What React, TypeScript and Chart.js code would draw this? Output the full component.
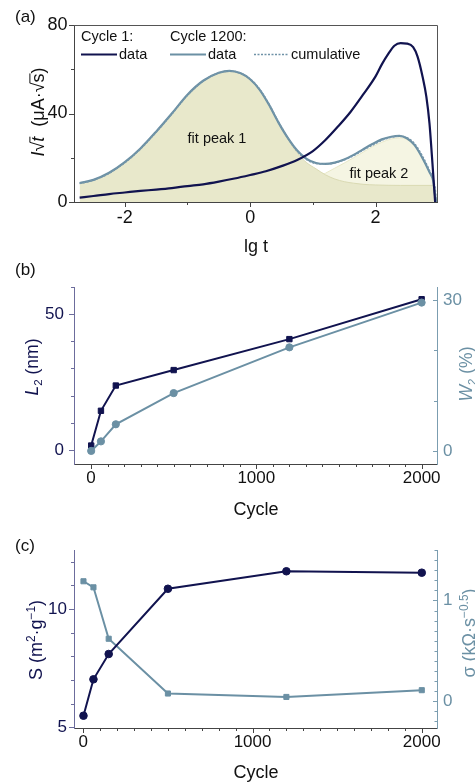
import React, { useEffect, useRef } from "react";
import { Chart, registerables } from "chart.js";
Chart.register(...registerables);

const FONT = "'Liberation Sans', Arial, Helvetica, sans-serif";
const NAVY = "#11134f";
const STEEL = "#6b90a4";
const INK = "#111111";

// ---------- panel (a): I·sqrt(t) vs lg t ----------
const lgT1 = [-2.72, -2.5, -2.25, -2.0, -1.75, -1.5, -1.25, -1.0, -0.75, -0.5, -0.25, 0.0, 0.25, 0.5, 0.75, 1.0, 1.2, 1.4, 1.6, 1.8, 2.0, 2.1, 2.2, 2.3, 2.4, 2.5, 2.6, 2.67, 2.75, 2.81, 2.86, 2.9, 2.93, 2.95];
const cycle1Signal = [2.0, 2.7, 3.6, 4.3, 5.0, 5.6, 6.3, 7.2, 8.0, 9.2, 10.6, 12.2, 13.9, 16.2, 19.0, 23.0, 28.0, 34.1, 40.7, 48.5, 56.8, 62.2, 66.8, 70.6, 71.8, 71.6, 70.0, 65.7, 56.6, 47.6, 35.5, 20.4, 8.3, 0];

const lgT1200 = [-2.72, -2.5, -2.25, -2.0, -1.75, -1.5, -1.25, -1.0, -0.75, -0.5, -0.33, -0.15, 0.0, 0.15, 0.3, 0.45, 0.6, 0.75, 0.9, 1.05, 1.2, 1.35, 1.5, 1.65, 1.8, 1.95, 2.1, 2.25, 2.38, 2.5, 2.62, 2.75, 2.86, 2.92, 2.95, 2.97];
const cycle1200Signal = [8.6, 10.0, 13.2, 18.0, 24.2, 31.8, 40.0, 48.5, 54.8, 58.4, 59.3, 58.2, 55.5, 50.8, 44.0, 36.0, 29.0, 23.3, 19.5, 17.6, 17.2, 17.8, 19.2, 21.3, 23.8, 26.2, 28.3, 29.5, 29.9, 28.8, 25.8, 19.8, 13.5, 9.5, 3.0, 0];
const cumulativeSignal = [8.4, 9.9, 13.0, 17.8, 24.0, 31.6, 39.8, 48.3, 54.7, 58.4, 59.2, 58.2, 55.6, 51.0, 44.2, 36.2, 29.0, 23.0, 19.2, 17.4, 17.2, 17.7, 19.0, 21.0, 23.4, 25.7, 27.9, 29.3, 29.8, 29.1, 26.4, 20.6, 14.2, 10.0, 6.0, 0];

const lgTPeak1 = [-2.72, -2.5, -2.25, -2.0, -1.75, -1.5, -1.25, -1.0, -0.75, -0.5, -0.33, -0.15, 0.0, 0.15, 0.3, 0.45, 0.6, 0.75, 0.9, 1.05, 1.2, 1.35, 1.5, 1.65, 1.8, 2.0, 2.4, 2.93];
const fitPeak1 = [8.3, 9.8, 13.0, 17.8, 24.0, 31.6, 39.8, 48.3, 54.6, 58.2, 59.0, 58.0, 55.2, 50.5, 43.8, 35.8, 28.5, 22.2, 17.8, 15.0, 12.3, 10.4, 9.2, 8.5, 8.0, 7.7, 7.5, 7.5];

const lgTPeak2 = [0.6, 0.9, 1.05, 1.2, 1.35, 1.5, 1.65, 1.8, 1.95, 2.1, 2.25, 2.38, 2.5, 2.62, 2.75, 2.86, 2.93];
const fitPeak2 = [7.5, 8.6, 10.5, 13.0, 15.3, 17.6, 20.0, 22.5, 25.0, 27.0, 28.5, 29.0, 28.2, 25.4, 19.6, 13.4, 9.0];

const aXTicks = [-2, 0, 2];
const aXMinor = [-1, 1];
const aYTicks = [0, 40, 80];
const aYMinor = [20, 60];

// ---------- panels (b) and (c): vs cycle ----------
const cycles = [1, 60, 150, 500, 1200, 2000];
const L2nm = [1.6, 14.4, 23.7, 29.4, 40.8, 55.5];
const W2pct = [0.0, 1.9, 5.3, 11.5, 20.6, 29.5];
const S_m2g = [5.49, 7.03, 8.1, 10.86, 11.6, 11.54];
const sigmaK = [1.19, 1.13, 0.62, 0.077, 0.043, 0.11];

const cycleTicks = [0, 1000, 2000];
const cycleMinor = [100, 200, 300, 400, 500, 600, 700, 800, 900, 1100, 1200, 1300, 1400, 1500, 1600, 1700, 1800, 1900];
const bLeftTicks = [0, 50];
const bLeftMinor = [10, 20, 30, 40, 60];
const bRightTicks = [0, 30];
const bRightMinor = [10, 20];
const cLeftTicks = [5, 10];
const cLeftMinor = [6, 7, 8, 9, 11, 12];
const cRightTicks = [0, 1];
const cRightMinor = [-0.2, -0.1, 0.1, 0.2, 0.3, 0.4, 0.5, 0.6, 0.7, 0.8, 0.9, 1.1, 1.2, 1.3, 1.4, 1.5];

const pts = (xs: number[], ys: number[]) => xs.map((x, i) => ({ x, y: ys[i] }));

type Seg = { t: string; it?: boolean; s?: "sub" | "sup"; over?: boolean };

function drawRich(ctx: CanvasRenderingContext2D, segs: Seg[], size: number, cx: number, by: number, color: string) {
  const parts = segs.map((s) => {
    const fs = s.s ? size * 0.66 : size;
    const font = `${s.it ? "italic " : ""}${fs}px ${FONT}`;
    ctx.font = font;
    return { ...s, font, w: ctx.measureText(s.t).width };
  });
  const total = parts.reduce((a, p) => a + p.w, 0);
  let x = cx - total / 2;
  ctx.fillStyle = color;
  ctx.strokeStyle = color;
  ctx.textAlign = "left";
  ctx.textBaseline = "alphabetic";
  for (const p of parts) {
    ctx.font = p.font;
    const dy = p.s === "sup" ? -size * 0.4 : p.s === "sub" ? size * 0.22 : 0;
    ctx.fillText(p.t, x, by + dy);
    if (p.over) {
      ctx.lineWidth = 1;
      ctx.beginPath();
      ctx.moveTo(x - 0.5, by - size * 0.8);
      ctx.lineTo(x + p.w, by - size * 0.8);
      ctx.stroke();
    }
    x += p.w;
  }
}

function drawRotated(ctx: CanvasRenderingContext2D, segs: Seg[], size: number, cx: number, cy: number, color: string) {
  ctx.save();
  ctx.translate(cx, cy);
  ctx.rotate(-Math.PI / 2);
  drawRich(ctx, segs, size, 0, size * 0.35, color);
  ctx.restore();
}

function drawTickSet(chart: any, id: string, values: number[], len: number, color: string) {
  const ctx = chart.ctx as CanvasRenderingContext2D;
  const s = chart.scales[id];
  ctx.save();
  ctx.strokeStyle = color;
  ctx.lineWidth = 1;
  ctx.beginPath();
  for (const v of values) {
    const p = Math.round(s.getPixelForValue(v)) + 0.5;
    if (s.isHorizontal()) {
      ctx.moveTo(p, s.top);
      ctx.lineTo(p, s.top + len);
    } else if (s.position === "left") {
      ctx.moveTo(s.right, p);
      ctx.lineTo(s.right - len, p);
    } else {
      ctx.moveTo(s.left + 1, p);
      ctx.lineTo(s.left + 1 - len, p);
    }
  }
  ctx.stroke();
  ctx.restore();
}

function linAxis(opts: {
  min: number; max: number; ticks: number[]; size: number; horizontal: boolean; position?: string;
  pad: number; color: string; labelColor: string; fontSize?: number;
}) {
  return {
    type: "linear",
    position: opts.position,
    min: opts.min,
    max: opts.max,
    afterBuildTicks: (s: any) => {
      s.ticks = opts.ticks.map((v) => ({ value: v }));
    },
    afterFit: (s: any) => {
      if (opts.horizontal) s.height = opts.size;
      else s.width = opts.size;
    },
    grid: { display: true, drawOnChartArea: false, drawTicks: false },
    border: { display: true, color: opts.color, width: 1 },
    ticks: {
      padding: opts.pad,
      autoSkip: false,
      maxRotation: 0,
      color: opts.labelColor,
      font: { family: FONT, size: opts.fontSize ?? 17 },
      callback: (v: any) => String(v),
    },
  };
}

const baseOptions = {
  responsive: false,
  animation: false,
  devicePixelRatio: 1,
  events: [],
  plugins: { legend: { display: false }, tooltip: { enabled: false } },
};

function configA(): any {
  const decor = {
    id: "decorA",
    afterDraw(chart: any) {
      const ctx = chart.ctx as CanvasRenderingContext2D;
      const a = chart.chartArea;
      // frame top + right
      ctx.save();
      ctx.strokeStyle = "#555";
      ctx.lineWidth = 1;
      ctx.beginPath();
      ctx.moveTo(a.left, Math.round(a.top) + 0.5);
      ctx.lineTo(Math.round(a.right) + 0.5, Math.round(a.top) + 0.5);
      ctx.lineTo(Math.round(a.right) + 0.5, a.bottom);
      ctx.stroke();
      ctx.restore();
      drawTickSet(chart, "x", aXTicks, 5, "#444");
      drawTickSet(chart, "x", aXMinor, 3, "#444");
      drawTickSet(chart, "y", aYTicks, 5, "#444");
      drawTickSet(chart, "y", aYMinor, 3, "#444");
      // legend
      ctx.save();
      ctx.font = `14.5px ${FONT}`;
      ctx.fillStyle = INK;
      ctx.textAlign = "left";
      ctx.textBaseline = "alphabetic";
      ctx.fillText("Cycle 1:", 81, 41);
      ctx.fillText("Cycle 1200:", 170, 41);
      ctx.fillText("data", 119, 59);
      ctx.fillText("data", 208, 59);
      ctx.fillText("cumulative", 291, 59);
      ctx.lineWidth = 2;
      ctx.strokeStyle = NAVY;
      ctx.beginPath(); ctx.moveTo(81, 54.5); ctx.lineTo(117, 54.5); ctx.stroke();
      ctx.strokeStyle = STEEL;
      ctx.beginPath(); ctx.moveTo(170, 54.5); ctx.lineTo(206, 54.5); ctx.stroke();
      ctx.lineWidth = 1.6;
      ctx.setLineDash([2, 1.5]);
      ctx.strokeStyle = "#6f92a7";
      ctx.beginPath(); ctx.moveTo(254, 54.5); ctx.lineTo(288, 54.5); ctx.stroke();
      ctx.setLineDash([]);
      ctx.textAlign = "center";
      ctx.fillText("fit peak 1", 217, 143);
      ctx.fillText("fit peak 2", 379, 178);
      ctx.restore();
      // titles
      ctx.save();
      ctx.font = `17px ${FONT}`;
      ctx.fillStyle = INK;
      ctx.textAlign = "left";
      ctx.fillText("(a)", 15, 22);
      ctx.restore();
      drawRich(ctx, [{ t: "lg t" }], 18, 256, 252, INK);
      drawRotated(ctx, [{ t: "I", it: true }, { t: "√" }, { t: "t", it: true, over: true }, { t: "  (μA·√" }, { t: "s", over: true }, { t: ")" }], 18, 38, 112, INK);
    },
  };
  return {
    type: "line",
    data: {
      datasets: [
        { data: pts(lgT1, cycle1Signal), borderColor: NAVY, borderWidth: 2.2, pointRadius: 0, fill: false, cubicInterpolationMode: "monotone" },
        { data: pts(lgT1200, cumulativeSignal), borderColor: "#7596aa", borderWidth: 1.6, borderDash: [2, 1.6], pointRadius: 0, fill: false, cubicInterpolationMode: "monotone" },
        { data: pts(lgT1200, cycle1200Signal), borderColor: STEEL, borderWidth: 2.2, pointRadius: 0, fill: false, cubicInterpolationMode: "monotone" },
        { data: pts(lgTPeak1, fitPeak1), borderColor: "#dadab3", borderWidth: 1, backgroundColor: "#e8e8cb", fill: "origin", pointRadius: 0, cubicInterpolationMode: "monotone" },
        { data: pts(lgTPeak2, fitPeak2), borderColor: "#e8e8c8", borderWidth: 1, backgroundColor: "#f5f5e3", fill: "origin", pointRadius: 0, cubicInterpolationMode: "monotone" },
      ],
    },
    options: {
      ...baseOptions,
      layout: { padding: { top: 25, right: 38, left: 0, bottom: 0 } },
      scales: {
        x: linAxis({ min: -2.81, max: 2.98, ticks: aXTicks, size: 58, horizontal: true, pad: 5.5, color: "#444", labelColor: INK, fontSize: 18 }),
        y: linAxis({ min: 0, max: 80, ticks: aYTicks, size: 74, horizontal: false, position: "left", pad: 6.5, color: "#444", labelColor: INK, fontSize: 18 }),
      },
    },
    plugins: [decor],
  };
}

function configB(): any {
  const decor = {
    id: "decorB",
    afterDraw(chart: any) {
      const ctx = chart.ctx as CanvasRenderingContext2D;
      drawTickSet(chart, "x", cycleTicks, 5, "#444");
      drawTickSet(chart, "x", cycleMinor, 3, "#444");
      drawTickSet(chart, "y", bLeftTicks, 5, "#6c6c9c");
      drawTickSet(chart, "y", bLeftMinor, 3, "#6c6c9c");
      drawTickSet(chart, "y2", bRightTicks, 5, "#7b9db0");
      drawTickSet(chart, "y2", bRightMinor, 4, "#7b9db0");
      ctx.save();
      ctx.font = `17px ${FONT}`;
      ctx.fillStyle = INK;
      ctx.textAlign = "left";
      ctx.fillText("(b)", 15, 15);
      ctx.restore();
      drawRich(ctx, [{ t: "Cycle" }], 18, 256, 254.5, INK);
      drawRotated(ctx, [{ t: "L", it: true }, { t: "2", s: "sub" }, { t: " (nm)" }], 17.5, 32, 107, NAVY);
      drawRotated(ctx, [{ t: "W", it: true }, { t: "2", s: "sub" }, { t: " (%)" }], 17.5, 466, 114, STEEL);
    },
  };
  return {
    type: "line",
    data: {
      datasets: [
        { data: pts(cycles, W2pct), yAxisID: "y2", borderColor: STEEL, borderWidth: 2, pointStyle: "circle", pointRadius: 3.6, pointBackgroundColor: STEEL, pointBorderColor: STEEL, pointBorderWidth: 1, fill: false, tension: 0 },
        { data: pts(cycles, L2nm), yAxisID: "y", borderColor: NAVY, borderWidth: 2, pointStyle: "rect", pointRadius: 3.8, pointBackgroundColor: NAVY, pointBorderColor: NAVY, pointBorderWidth: 1, fill: false, tension: 0 },
      ],
    },
    options: {
      ...baseOptions,
      layout: { padding: { top: 27, right: 0, left: 0, bottom: 0 } },
      scales: {
        x: linAxis({ min: -103, max: 2093, ticks: cycleTicks, size: 56, horizontal: true, pad: 4, color: "#444", labelColor: INK }),
        y: linAxis({ min: -5.2, max: 60, ticks: bLeftTicks, size: 74, horizontal: false, position: "left", pad: 10, color: "#6c6c9c", labelColor: NAVY }),
        y2: linAxis({ min: -2.6, max: 32.6, ticks: bRightTicks, size: 38, horizontal: false, position: "right", pad: 6, color: "#7b9db0", labelColor: STEEL }),
      },
    },
    plugins: [decor],
  };
}

function configC(): any {
  const decor = {
    id: "decorC",
    afterDraw(chart: any) {
      const ctx = chart.ctx as CanvasRenderingContext2D;
      drawTickSet(chart, "x", cycleTicks, 5, "#444");
      drawTickSet(chart, "x", cycleMinor, 3, "#444");
      drawTickSet(chart, "y", cLeftTicks, 5, "#6c6c9c");
      drawTickSet(chart, "y", cLeftMinor, 3, "#6c6c9c");
      drawTickSet(chart, "y2", cRightTicks, 5, "#7b9db0");
      drawTickSet(chart, "y2", cRightMinor, 3.5, "#7b9db0");
      ctx.save();
      ctx.font = `17px ${FONT}`;
      ctx.fillStyle = INK;
      ctx.textAlign = "left";
      ctx.fillText("(c)", 15, 31);
      ctx.restore();
      drawRich(ctx, [{ t: "Cycle" }], 18, 256, 258, INK);
      drawRotated(ctx, [{ t: "S (m" }, { t: "2", s: "sup" }, { t: "·g" }, { t: "−1", s: "sup" }, { t: ")" }], 18, 36, 120, NAVY);
      drawRotated(ctx, [{ t: "σ (kΩ·s" }, { t: "−0.5", s: "sup" }, { t: ")" }], 18, 469, 113, STEEL);
    },
  };
  return {
    type: "line",
    data: {
      datasets: [
        { data: pts(cycles, S_m2g), yAxisID: "y", borderColor: NAVY, borderWidth: 2, pointStyle: "circle", pointRadius: 3.8, pointBackgroundColor: NAVY, pointBorderColor: NAVY, pointBorderWidth: 1, fill: false, tension: 0 },
        { data: pts(cycles, sigmaK), yAxisID: "y2", borderColor: STEEL, borderWidth: 2, pointStyle: "rect", pointRadius: 3.6, pointBackgroundColor: STEEL, pointBorderColor: STEEL, pointBorderWidth: 1, fill: false, tension: 0 },
      ],
    },
    options: {
      ...baseOptions,
      layout: { padding: { top: 30, right: 0, left: 0, bottom: 0 } },
      scales: {
        x: linAxis({ min: -55, max: 2090, ticks: cycleTicks, size: 55, horizontal: true, pad: 4.5, color: "#444", labelColor: INK }),
        y: linAxis({ min: 4.97, max: 12.5, ticks: cLeftTicks, size: 74, horizontal: false, position: "left", pad: 7, color: "#6c6c9c", labelColor: NAVY }),
        y2: linAxis({ min: -0.265, max: 1.5, ticks: cRightTicks, size: 38, horizontal: false, position: "right", pad: 6, color: "#7b9db0", labelColor: STEEL }),
      },
    },
    plugins: [decor],
  };
}

export default function App() {
  const ra = useRef<HTMLCanvasElement>(null);
  const rb = useRef<HTMLCanvasElement>(null);
  const rc = useRef<HTMLCanvasElement>(null);
  useEffect(() => {
    const charts = [
      new Chart(ra.current as HTMLCanvasElement, configA()),
      new Chart(rb.current as HTMLCanvasElement, configB()),
      new Chart(rc.current as HTMLCanvasElement, configC()),
    ];
    return () => charts.forEach((c) => c.destroy());
  }, []);
  return (
    <div style={{ position: "absolute", left: 0, top: 0, width: 475, height: 783, background: "#fff" }}>
      <canvas ref={ra} width={475} height={260} style={{ position: "absolute", left: 0, top: 0 }} />
      <canvas ref={rb} width={475} height={260} style={{ position: "absolute", left: 0, top: 260 }} />
      <canvas ref={rc} width={475} height={263} style={{ position: "absolute", left: 0, top: 520 }} />
    </div>
  );
}
